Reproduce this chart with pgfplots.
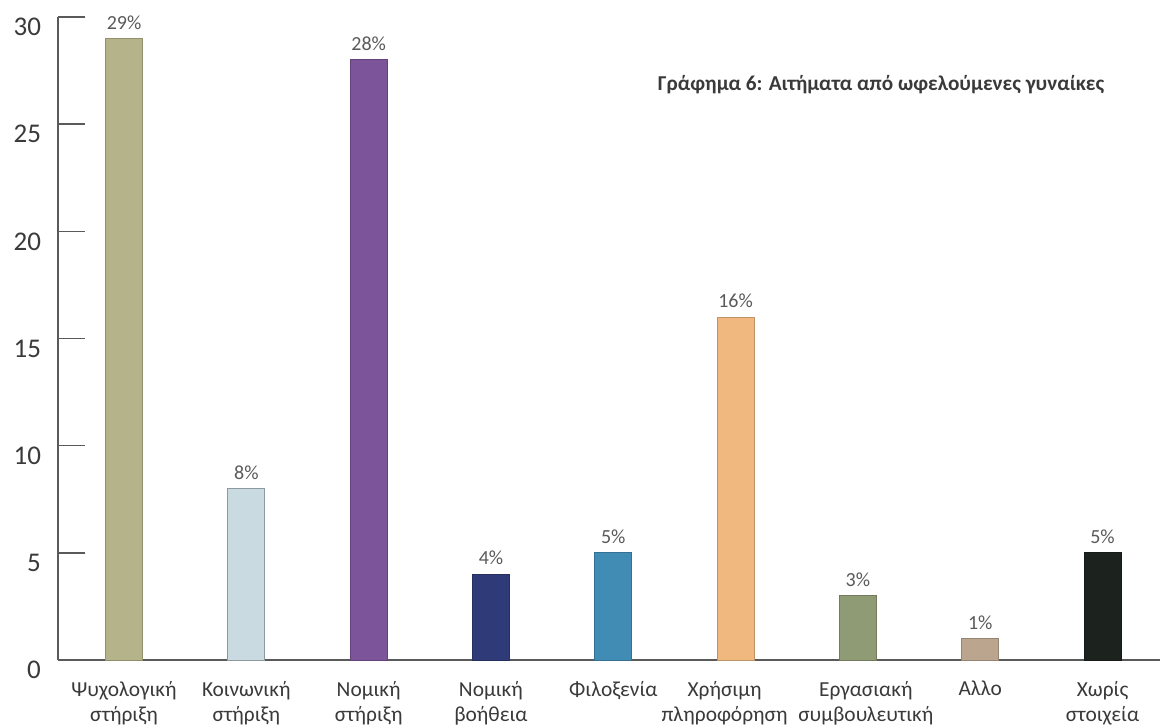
\documentclass[border=0pt]{standalone}
\usepackage{pgfplots}
\pgfplotsset{compat=1.18}
\usepackage{fontspec}
\setmainfont{Carlito}
\definecolor{c1}{HTML}{B5B38A}
\definecolor{c2}{HTML}{C9DBE0}
\definecolor{c3}{HTML}{7B5499}
\definecolor{c4}{HTML}{2E3B78}
\definecolor{c5}{HTML}{418CB5}
\definecolor{c6}{HTML}{F0B87E}
\definecolor{c7}{HTML}{8E9B74}
\definecolor{c8}{HTML}{BBA58E}
\definecolor{c9}{HTML}{1C221E}
\definecolor{axc}{HTML}{5A5A5A}
\definecolor{txt}{HTML}{3A3A3A}
\definecolor{pct}{HTML}{5A5A5A}
\begin{document}
\begin{tikzpicture}
\useasboundingbox (0pt,0pt) rectangle (580pt,362.5pt);
\begin{axis}[
  at={(29pt,32.5pt)}, anchor=south west,
  scale only axis, width=551pt, height=321.5pt,
  xmin=-0.54, xmax=8.47, ymin=0, ymax=30,
  axis lines*=left,
  axis line style={axc, line width=0.75pt},
  ybar, bar width=18.5pt, bar shift=0pt,
  ytick={0,5,...,30},
  tick align=inside,
  major tick length=13.5pt,
  y tick style={axc, line width=0.75pt},
  x tick style={draw=none},
  xtick={0,1,2,3,4,4.91,6.065,7,8},
  xticklabels={{Ψυχολογική\\στήριξη},{Κοινωνική\\στήριξη},{Νομική\\στήριξη},{Νομική\\βοήθεια},{Φιλοξενία},{Χρήσιμη\\πληροφόρηση},{Εργασιακή\\συμβουλευτική},{Αλλο},{Χωρίς\\στοιχεία}},
  xticklabel style={align=center, font=\fontsize{10.7}{12.5}\selectfont, text=txt, yshift=-7pt},
  yticklabel style={font=\fontsize{13.5}{15}\selectfont, text=txt, xshift=-5pt, yshift=-5pt},
  /pgf/number format/assume math mode=true,
  nodes near coords={\pgfmathprintnumber{\pgfplotspointmeta}\%},
  nodes near coords style={font=\fontsize{10}{12}\selectfont, text=pct, yshift=1pt},
  clip=false,
]
\addplot[fill=c1, draw=c1!80!black, line width=0.5pt] coordinates {(0,29)};
\addplot[fill=c2, draw=c2!70!black, line width=0.5pt] coordinates {(1,8)};
\addplot[fill=c3, draw=c3!80!black, line width=0.5pt] coordinates {(2,28)};
\addplot[fill=c4, draw=c4!80!black, line width=0.5pt] coordinates {(3,4)};
\addplot[fill=c5, draw=c5!80!black, line width=0.5pt] coordinates {(4,5)};
\addplot[fill=c6, draw=c6!80!black, line width=0.5pt] coordinates {(5,16)};
\addplot[fill=c7, draw=c7!80!black, line width=0.5pt] coordinates {(6,3)};
\addplot[fill=c8, draw=c8!80!black, line width=0.5pt] coordinates {(7,1)};
\addplot[fill=c9, draw=c9!80!black, line width=0.5pt] coordinates {(8,5)};
\end{axis}
\node[font=\bfseries\fontsize{10.6}{12}\selectfont, text=txt] at (440.5pt,320pt) {Γράφημα 6: Αιτήματα από ωφελούμενες γυναίκες};
\end{tikzpicture}
\end{document}
